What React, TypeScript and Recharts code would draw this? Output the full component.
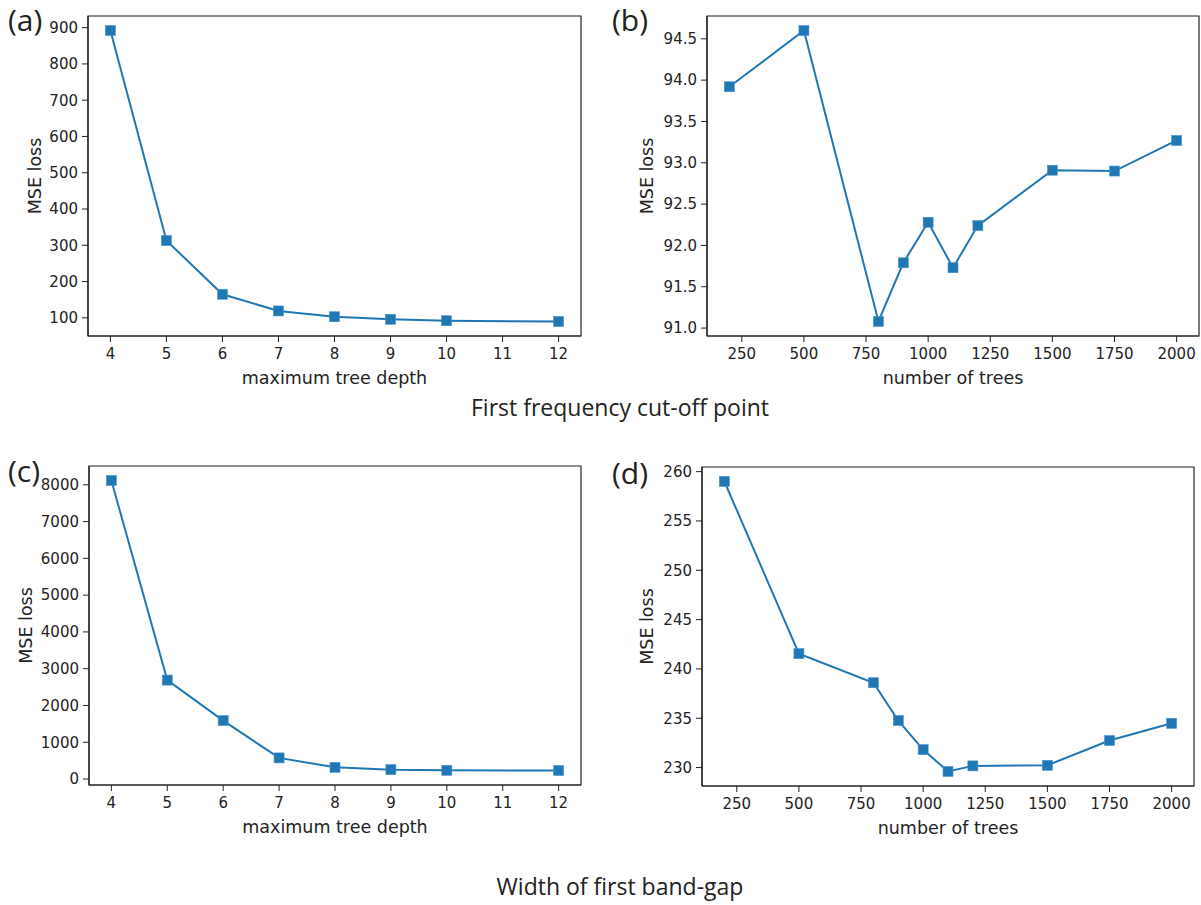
import React from 'react';
import { LineChart, Line, XAxis, YAxis, ReferenceArea } from 'recharts';

// panel (a) / (c): depth sweep
const depths = [4, 5, 6, 7, 8, 9, 10, 12];
const lossCutoffDepth = [892, 313, 165, 119, 103, 96, 92, 90];
const lossGapDepth = [8117, 2690, 1587, 575, 318, 255, 237, 232];

// panel (b) / (d): tree count sweep
const trees = [200, 500, 800, 900, 1000, 1100, 1200, 1500, 1750, 2000];
const lossCutoffTrees = [93.92, 94.6, 91.08, 91.79, 92.28, 91.73, 92.24, 92.91, 92.9, 93.27];
const lossGapTrees = [259.0, 241.55, 238.6, 234.76, 231.82, 229.6, 230.17, 230.23, 232.74, 234.49];

const depthTicks = [4, 5, 6, 7, 8, 9, 10, 11, 12];
const treeTicks = [250, 500, 750, 1000, 1250, 1500, 1750, 2000];
const ticksA = [100, 200, 300, 400, 500, 600, 700, 800, 900];
const ticksB = [91.0, 91.5, 92.0, 92.5, 93.0, 93.5, 94.0, 94.5];
const ticksC = [0, 1000, 2000, 3000, 4000, 5000, 6000, 7000, 8000];
const ticksD = [230, 235, 240, 245, 250, 255, 260];

const BLUE = '#1f77b4';
const INK = '#222';
const MPL = '"DejaVu Sans", sans-serif';
const TITLE_FONT = '"Open Sans", sans-serif';

// matplotlib-style 5% autoscale margin
const pad = (vals: number[]): [number, number] => {
    const lo = Math.min(...vals);
    const hi = Math.max(...vals);
    const m = (hi - lo) * 0.05;
    return [lo - m, hi + m];
};

const Square = (props: any) => {
    const { cx, cy } = props;
    if (cx == null || cy == null) return null;
    return <rect x={cx - 5} y={cy - 5} width={10} height={10} fill={BLUE} stroke="#4a93c8" strokeWidth={0.6} />;
};

interface PanelProps {
    xs: number[];
    ys: number[];
    xTicks: number[];
    yTicks: number[];
    xLabel: string;
    plot: { left: number; top: number; right: number; bottom: number };
    yAxisWidth: number;
    yLabelX: number;
    yFmt?: (v: number) => string;
}

function Panel({ xs, ys, xTicks, yTicks, xLabel, plot, yAxisWidth, yLabelX, yFmt }: PanelProps) {
    const data = xs.map((x, i) => ({ x, y: ys[i] }));
    const xDom = pad(xs);
    const yDom = pad(ys);
    const mTop = 12;
    const mRight = 8;
    const xAxisH = 54;
    const left = plot.left - yAxisWidth;
    const top = plot.top - mTop;
    const width = plot.right - left + mRight;
    const height = plot.bottom - top + xAxisH;
    const tickStyle = { fill: INK, fontSize: 15, fontFamily: MPL };

    return (
        <div style={{ position: 'absolute', left, top, fontFamily: MPL }}>
            <LineChart width={width} height={height} data={data}
                margin={{ top: mTop, right: mRight, left: 0, bottom: 0 }}>
                <XAxis dataKey="x" type="number" domain={xDom} ticks={xTicks} allowDataOverflow
                    height={xAxisH} tickSize={6} tickMargin={6} interval={0}
                    tick={tickStyle} stroke={INK} axisLine={{ stroke: INK, strokeWidth: 1.2 }}
                    label={{ value: xLabel, position: 'insideBottom', offset: 6, fill: INK, fontSize: 17.5, fontFamily: MPL }} />
                <YAxis type="number" domain={yDom} ticks={yTicks} allowDataOverflow
                    width={yAxisWidth} tickSize={6} tickMargin={4} interval={0}
                    tickFormatter={yFmt} tick={tickStyle} stroke={INK} axisLine={{ stroke: INK, strokeWidth: 1.2 }}
                    label={{ value: 'MSE loss', angle: -90, position: 'insideLeft', offset: yLabelX, fill: INK, fontSize: 17.5, fontFamily: MPL, style: { textAnchor: 'middle' } }} />
                <ReferenceArea x1={xDom[0]} x2={xDom[1]} y1={yDom[0]} y2={yDom[1]}
                    fill="none" fillOpacity={0} stroke={INK} strokeWidth={1.2} />
                <Line type="linear" dataKey="y" stroke={BLUE} strokeWidth={2}
                    dot={<Square />} activeDot={false} isAnimationActive={false} />
            </LineChart>
        </div>
    );
}

const Tag = ({ text, left, top }: { text: string; left: number; top: number }) => (
    <div style={{ position: 'absolute', left, top, fontFamily: TITLE_FONT, fontSize: 30, lineHeight: '40px', color: INK, whiteSpace: 'nowrap' }}>
        {text}
    </div>
);

const Caption = ({ text, top }: { text: string; top: number }) => (
    <div style={{ position: 'absolute', left: 0, width: 1240, top, textAlign: 'center', fontFamily: TITLE_FONT, fontSize: 23, lineHeight: '30px', color: INK }}>
        {text}
    </div>
);

export default function App() {
    return (
        <div style={{ position: 'fixed', left: 0, top: 0, width: 1201, height: 905, background: '#fff', overflow: 'hidden', fontFamily: MPL }}>
            <Panel xs={depths} ys={lossCutoffDepth} xTicks={depthTicks} yTicks={ticksA}
                xLabel="maximum tree depth" plot={{ left: 88, top: 16, right: 581, bottom: 336 }}
                yAxisWidth={88} yLabelX={35} />
            <Panel xs={trees} ys={lossCutoffTrees} xTicks={treeTicks} yTicks={ticksB}
                xLabel="number of trees" plot={{ left: 707, top: 16, right: 1199, bottom: 336 }}
                yAxisWidth={107} yLabelX={47} yFmt={(v) => v.toFixed(1)} />
            <Panel xs={depths} ys={lossGapDepth} xTicks={depthTicks} yTicks={ticksC}
                xLabel="maximum tree depth" plot={{ left: 89, top: 466, right: 581, bottom: 785 }}
                yAxisWidth={89} yLabelX={26} />
            <Panel xs={trees} ys={lossGapTrees} xTicks={treeTicks} yTicks={ticksD}
                xLabel="number of trees" plot={{ left: 702, top: 467, right: 1194, bottom: 786 }}
                yAxisWidth={102} yLabelX={47} />

            <Tag text="(a)" left={8} top={0} />
            <Tag text="(b)" left={612} top={0} />
            <Tag text="(c)" left={8} top={451} />
            <Tag text="(d)" left={612} top={453} />

            <Caption text="First frequency cut-off point" top={392} />
            <Caption text="Width of first band-gap" top={871} />
        </div>
    );
}
